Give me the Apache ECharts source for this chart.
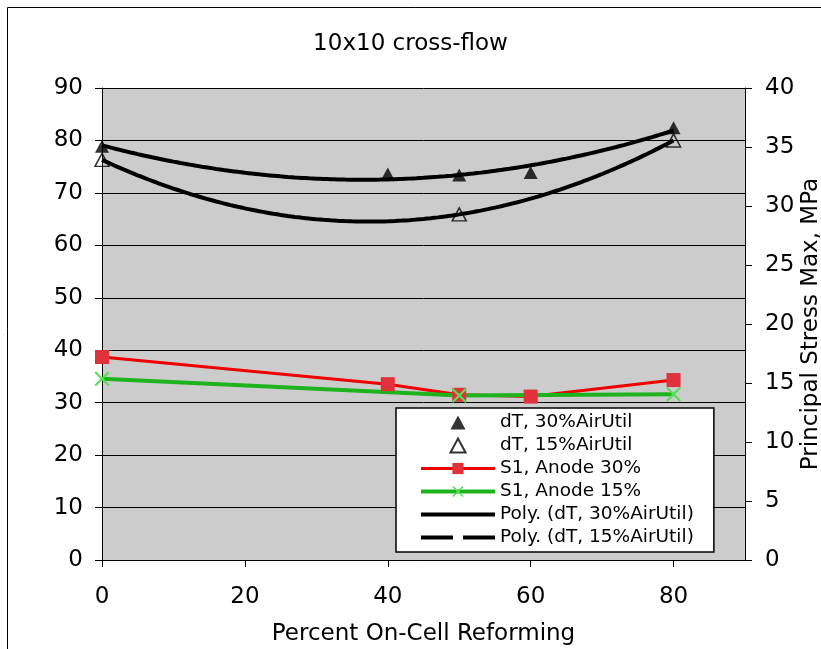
<!DOCTYPE html>
<html>
<head>
<meta charset="utf-8">
<title>10x10 cross-flow</title>
<script src="https://cdn.jsdelivr.net/npm/echarts@6/dist/echarts.min.js"></script>
<style>
  html, body { margin: 0; padding: 0; background: #fff; }
  #chart { width: 821px; height: 649px; }
</style>
</head>
<body>
<div id="chart"></div>
<script>
// dT (left axis, deg) and S1 stress (right axis, MPa) vs percent on-cell reforming
const xTicks = [0, 20, 40, 60, 80];

const dT30x = [0, 40, 50, 60, 80];
const dT30y = [78.9, 73.6, 73.4, 73.9, 82.4];

const dT15x = [0, 50, 80];
const dT15y = [76.3, 65.9, 80.0];

const s1a30x = [0, 40, 50, 60, 80];
const s1a30y = [17.2, 14.9, 14.0, 13.85, 15.25];

const s1a15x = [0, 50, 80];
const s1a15y = [15.35, 13.95, 14.05];

const pairs = (xs, ys) => xs.map((x, i) => [x, ys[i]]);

// Excel-style 2nd order polynomial trendline (least squares)
function polyFit2(xs, ys) {
  let n = xs.length, sx = 0, sx2 = 0, sx3 = 0, sx4 = 0, sy = 0, sxy = 0, sx2y = 0;
  for (let i = 0; i < n; i++) {
    const x = xs[i], y = ys[i];
    sx += x; sx2 += x * x; sx3 += x * x * x; sx4 += x * x * x * x;
    sy += y; sxy += x * y; sx2y += x * x * y;
  }
  const m = [[n, sx, sx2, sy], [sx, sx2, sx3, sxy], [sx2, sx3, sx4, sx2y]];
  for (let i = 0; i < 3; i++) {
    for (let k = i + 1; k < 3; k++) {
      const f = m[k][i] / m[i][i];
      for (let j = i; j < 4; j++) m[k][j] -= f * m[i][j];
    }
  }
  const r = [0, 0, 0];
  for (let i = 2; i >= 0; i--) {
    let s = m[i][3];
    for (let j = i + 1; j < 3; j++) s -= m[i][j] * r[j];
    r[i] = s / m[i][i];
  }
  return x => r[0] + r[1] * x + r[2] * x * x;
}

function trend(xs, ys) {
  const f = polyFit2(xs, ys);
  const lo = Math.min(...xs), hi = Math.max(...xs);
  const out = [];
  for (let x = lo; x <= hi; x += 1) out.push([x, f(x)]);
  return out;
}

const crossPath = 'path://M0,1 L1,0 L5,4 L9,0 L10,1 L6,5 L10,9 L9,10 L5,6 L1,10 L0,9 L4,5 Z';
const triIcon = 'path://M7,0 L14,13 L0,13 Z';
const solidIcon = 'path://M0,0 H74 V4 H0 Z';
const dashIcon = 'path://M0,0 H32 V4 H0 Z M42,0 H74 V4 H42 Z';
const font = "'DejaVu Sans', Verdana, sans-serif";

const chart = echarts.init(document.getElementById('chart'));
chart.setOption({
  animation: false,
  backgroundColor: '#ffffff',
  graphic: [{
    type: 'rect',
    shape: { x: 7.5, y: 7.5, width: 900, height: 900 },
    style: { fill: 'none', stroke: '#000', lineWidth: 1 },
    silent: true
  }],
  title: {
    text: '10x10 cross-flow',
    left: 'center',
    top: 28,
    textStyle: { fontFamily: font, fontSize: 23, fontWeight: 'normal', color: '#000' }
  },
  legend: {
    orient: 'vertical',
    left: 396,
    top: 408,
    padding: [5, 20, 5, 23],
    backgroundColor: '#ffffff',
    borderColor: '#000',
    borderWidth: 1.5,
    borderRadius: 0,
    itemWidth: 74,
    itemHeight: 14,
    itemGap: 4,
    symbolKeepAspect: true,
    textStyle: { fontFamily: font, fontSize: 18.5, color: '#000' },
    data: [
      { name: 'dT, 30%AirUtil', icon: triIcon },
      { name: 'dT, 15%AirUtil', icon: triIcon },
      { name: 'S1, Anode 30%', lineStyle: { width: 3 } },
      { name: 'S1, Anode 15%', lineStyle: { width: 4 } },
      { name: 'Poly. (dT, 30%AirUtil)', icon: solidIcon },
      { name: 'Poly. (dT, 15%AirUtil)', icon: dashIcon }
    ]
  },
  grid: {
    left: 102, right: 76, top: 88, bottom: 89,
    outerBoundsMode: 'none',
    containLabel: false,
    show: true, backgroundColor: '#cccccc', borderWidth: 0
  },
  xAxis: {
    type: 'value',
    min: 0,
    max: 90,
    interval: 20,
    name: 'Percent On-Cell Reforming',
    nameLocation: 'middle',
    nameGap: 63,
    nameMoveOverlap: false,
    nameTextStyle: { fontFamily: font, fontSize: 23, color: '#000' },
    axisLine: { show: true, lineStyle: { color: '#000', width: 1 } },
    axisTick: { show: true, inside: false, length: 7, lineStyle: { color: '#000' } },
    axisLabel: {
      fontFamily: font, fontSize: 23, color: '#000', margin: 26,
      showMaxLabel: false,
      formatter: v => (xTicks.indexOf(v) >= 0 ? String(v) : '')
    },
    splitLine: { show: false }
  },
  yAxis: [{
    type: 'value',
    min: 0,
    max: 90,
    interval: 10,
    position: 'left',
    axisLine: { show: true, lineStyle: { color: '#000', width: 1 } },
    axisTick: { show: true, length: 7, lineStyle: { color: '#000' } },
    axisLabel: { fontFamily: font, fontSize: 23, color: '#000', margin: 19 },
    splitLine: { show: true, lineStyle: { color: '#000', width: 1 } }
  }, {
    type: 'value',
    min: 0,
    max: 40,
    interval: 5,
    position: 'right',
    name: 'Principal Stress Max, MPa',
    nameLocation: 'middle',
    nameGap: 55,
    nameMoveOverlap: false,
    nameTextStyle: { fontFamily: font, fontSize: 23, color: '#000' },
    axisLine: { show: true, lineStyle: { color: '#000', width: 1 } },
    axisTick: { show: true, length: 7, lineStyle: { color: '#000' } },
    axisLabel: { fontFamily: font, fontSize: 23, color: '#000', margin: 20 },
    splitLine: { show: false }
  }],
  series: [
    {
      name: 'Poly. (dT, 30%AirUtil)',
      type: 'line',
      yAxisIndex: 0,
      data: trend(dT30x, dT30y),
      showSymbol: false,
      symbol: 'none',
      smooth: true,
      lineStyle: { color: '#000', width: 4 },
      itemStyle: { color: '#000' },
      z: 2
    },
    {
      name: 'Poly. (dT, 15%AirUtil)',
      type: 'line',
      yAxisIndex: 0,
      data: trend(dT15x, dT15y),
      showSymbol: false,
      symbol: 'none',
      smooth: true,
      lineStyle: { color: '#000', width: 4 },
      itemStyle: { color: '#000' },
      z: 2
    },
    {
      name: 'S1, Anode 30%',
      type: 'line',
      yAxisIndex: 1,
      data: pairs(s1a30x, s1a30y),
      symbol: 'rect',
      symbolSize: 14,
      lineStyle: { color: '#ee0000', width: 3 },
      itemStyle: { color: '#e0323c' },
      z: 3
    },
    {
      name: 'S1, Anode 15%',
      type: 'line',
      yAxisIndex: 1,
      data: pairs(s1a15x, s1a15y),
      symbol: crossPath,
      symbolSize: 15,
      lineStyle: { color: '#1db31d', width: 4 },
      itemStyle: { color: '#55e055' },
      z: 3
    },
    {
      name: 'dT, 30%AirUtil',
      type: 'scatter',
      yAxisIndex: 0,
      data: pairs(dT30x, dT30y),
      symbol: 'triangle',
      symbolSize: [14, 13],
      itemStyle: { color: '#000' },
      z: 4
    },
    {
      name: 'dT, 15%AirUtil',
      type: 'scatter',
      yAxisIndex: 0,
      data: pairs(dT15x, dT15y),
      symbol: 'triangle',
      symbolSize: [14, 13],
      itemStyle: { color: 'rgba(0,0,0,0)', borderColor: '#000', borderWidth: 1.5 },
      z: 4
    }
  ]
});
</script>
</body>
</html>
